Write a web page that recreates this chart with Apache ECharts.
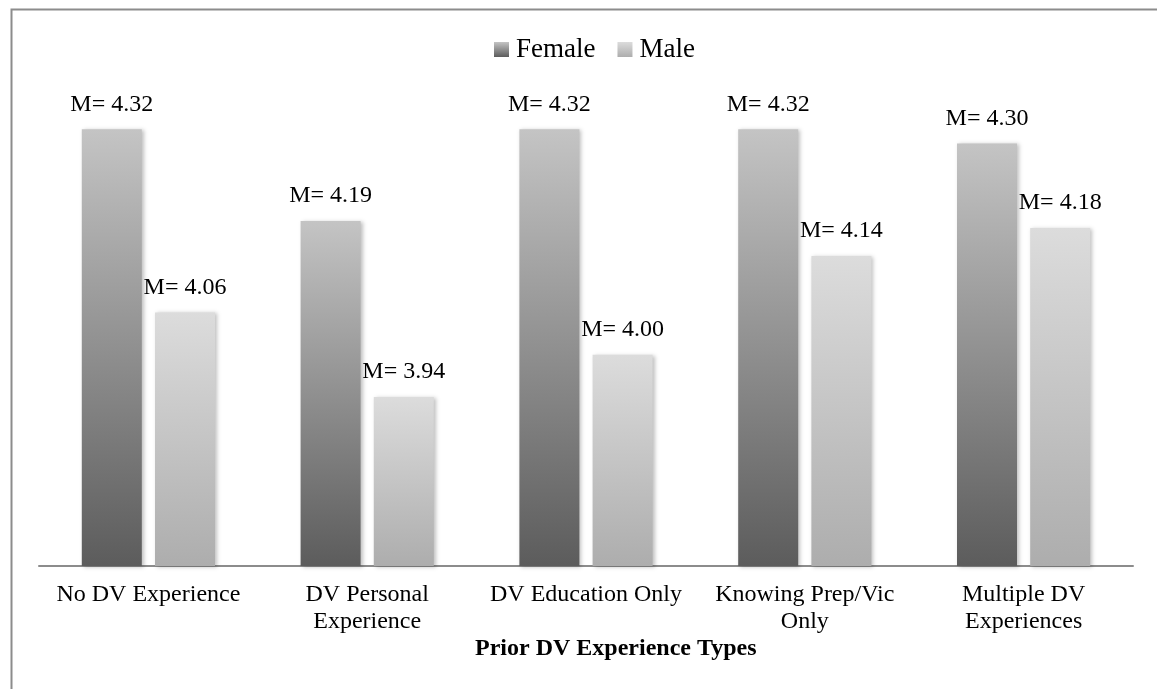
<!DOCTYPE html>
<html>
<head>
<meta charset="utf-8">
<script src="https://cdn.jsdelivr.net/npm/echarts@6/dist/echarts.min.js"></script>
<style>
  html, body { margin: 0; padding: 0; background: #fff; }
  #chart { width: 1157px; height: 689px; }
</style>
</head>
<body>
<div id="chart"></div>
<script>
var categories = ['No DV Experience', 'DV Personal\nExperience', 'DV Education Only', 'Knowing Prep/Vic\nOnly', 'Multiple DV\nExperiences'];
var female = [4.32, 4.19, 4.32, 4.32, 4.30];
var male = [4.06, 3.94, 4.00, 4.14, 4.18];

var chart = echarts.init(document.getElementById('chart'));

var serif = '"Liberation Serif", "Times New Roman", serif';

function grad(top, bottom) {
    return new echarts.graphic.LinearGradient(0, 0, 0, 1, [
        { offset: 0, color: top },
        { offset: 1, color: bottom }
    ]);
}

function valueLabel(p) {
    return 'M= ' + p.value.toFixed(2);
}

var option = {
    animation: false,
    title: {
        text: 'Prior DV Experience Types',
        left: 470,
        top: 632,
        textStyle: { fontFamily: serif, fontSize: 24, fontWeight: 'bold', color: '#000' }
    },
    legend: {
        left: 489,
        top: 31,
        icon: 'rect',
        itemWidth: 15,
        itemHeight: 15,
        itemGap: 22,
        textStyle: { fontFamily: serif, fontSize: 27, color: '#000', padding: [0, 0, 0, 2] },
        data: ['Female', 'Male']
    },
    grid: { left: 39, right: 24, top: 73, bottom: 123 },
    xAxis: {
        type: 'category',
        data: categories,
        axisTick: { show: false },
        axisLine: { lineStyle: { color: '#8c8c8c', width: 2 } },
        axisLabel: {
            interval: 0,
            margin: 15,
            fontFamily: serif,
            fontSize: 24,
            lineHeight: 27,
            color: '#000'
        }
    },
    yAxis: {
        type: 'value',
        min: 3.7,
        max: 4.4,
        show: false,
        splitLine: { show: false }
    },
    series: [{
        name: 'Female',
        type: 'bar',
        data: female,
        barWidth: 60,
        barGap: '22%',
        itemStyle: {
            color: grad('#c4c4c4', '#5c5c5c'),
            shadowColor: 'rgba(0,0,0,0.25)',
            shadowBlur: 4,
            shadowOffsetX: 2,
            shadowOffsetY: 1
        },
        label: {
            show: true,
            position: 'top',
            distance: 11,
            formatter: valueLabel,
            fontFamily: serif,
            fontSize: 24,
            lineHeight: 28,
            color: '#000'
        }
    }, {
        name: 'Male',
        type: 'bar',
        data: male,
        barWidth: 60,
        itemStyle: {
            color: grad('#dcdcdc', '#adadad'),
            shadowColor: 'rgba(0,0,0,0.25)',
            shadowBlur: 4,
            shadowOffsetX: 2,
            shadowOffsetY: 1
        },
        label: {
            show: true,
            position: 'top',
            distance: 11,
            formatter: valueLabel,
            fontFamily: serif,
            fontSize: 24,
            lineHeight: 28,
            color: '#000'
        }
    }],
    graphic: [{
        type: 'rect',
        left: 9,
        top: 7,
        shape: { width: 1300, height: 800 },
        style: { fill: 'none', stroke: '#8c8c8c', lineWidth: 2 },
        silent: true
    }]
};

chart.setOption(option);
</script>
</body>
</html>
